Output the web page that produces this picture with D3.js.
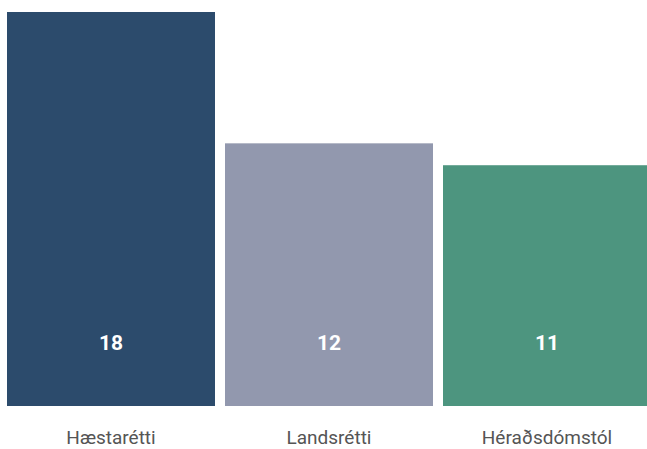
<!DOCTYPE html>
<html>
<head>
<meta charset="utf-8">
<script src="https://cdn.jsdelivr.net/npm/d3@7"></script>
<style>
  html, body { margin: 0; padding: 0; background: #fff; }
</style>
</head>
<body>
<div id="chart"></div>
<script>
const categories = ['Hæstarétti', 'Landsrétti', 'Héraðsdómstól'];
const counts = [18, 12, 11];
const colors = ['#2c4b6c', '#9298ae', '#4d957f'];

const svgWidth = 647;
const svgHeight = 449;
const baseY = 406;

const svg = d3.select('#chart')
    .append('svg')
    .attr('width', svgWidth)
    .attr('height', svgHeight);

const x = d3.scaleBand()
    .domain(categories)
    .range([7, 651])
    .paddingInner(10 / 218)
    .paddingOuter(0);

const y = d3.scaleLinear()
    .domain([0, 18])
    .range([baseY, 12]);

const data = categories.map((c, i) => ({ cat: c, value: counts[i], color: colors[i] }));

svg.selectAll('.bar')
    .data(data)
    .enter()
    .append('rect')
    .attr('class', 'bar')
    .attr('x', d => x(d.cat))
    .attr('y', d => y(d.value))
    .attr('width', x.bandwidth())
    .attr('height', d => baseY - y(d.value))
    .attr('fill', d => d.color);

// value labels inside bars
svg.selectAll('.val')
    .data(data)
    .enter()
    .append('text')
    .attr('class', 'val')
    .attr('x', d => x(d.cat) + x.bandwidth() / 2)
    .attr('y', 350)
    .attr('text-anchor', 'middle')
    .attr('fill', '#fff')
    .style('font-family', 'Roboto, sans-serif')
    .style('font-weight', 700)
    .style('font-size', '21px')
    .text(d => d.value);

// category labels
const xAxis = svg.append('g')
    .attr('transform', `translate(0, ${baseY})`)
    .call(d3.axisBottom(x).tickSize(0).tickPadding(0));

xAxis.select('.domain').remove();
xAxis.selectAll('text')
    .attr('y', 38)
    .attr('dy', 0)
    .attr('fill', '#555')
    .style('font-family', 'Roboto, sans-serif')
    .style('font-size', '19px');
</script>
</body>
</html>
